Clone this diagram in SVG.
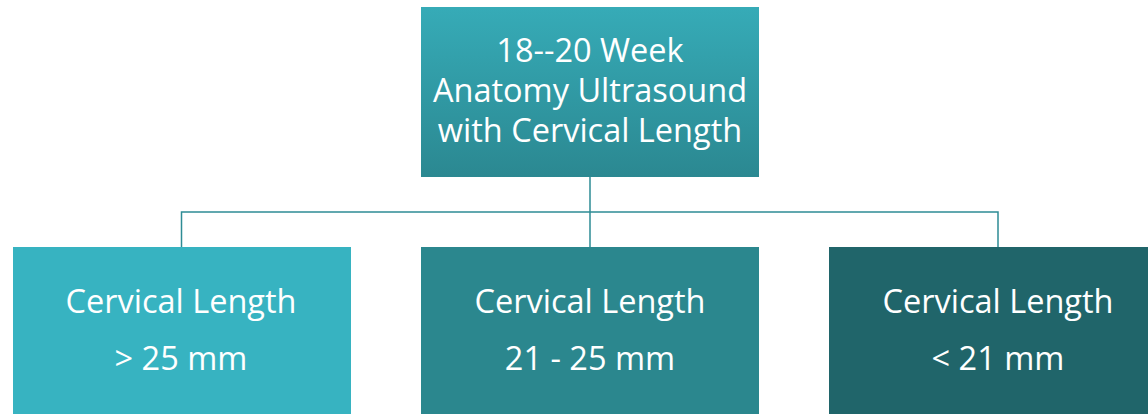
<svg xmlns="http://www.w3.org/2000/svg" width="1148" height="414" viewBox="0 0 1148 414">
<defs>
<linearGradient id="topg" x1="0" y1="0" x2="0" y2="1">
<stop offset="0" stop-color="#36abb7"/>
<stop offset="1" stop-color="#2b8891"/>
</linearGradient>
</defs>
<style>
.t{font-family:"Open Sans","Liberation Sans",sans-serif;font-size:32.5px;fill:#ffffff;text-anchor:middle}
.c{fill:none;stroke:#2e8c95;stroke-width:1.5}
</style>
<rect width="1148" height="414" fill="#ffffff"/>
<g id="connectors">
<path class="c" d="M590 177V247M181.5 247V212H998V247"/>
</g>
<g id="top">
<rect x="421" y="7" width="338" height="170" fill="url(#topg)"/>
<text class="t" x="590" y="62">18--20 Week</text>
<text class="t" x="590" y="102">Anatomy Ultrasound</text>
<text class="t" x="590" y="142">with Cervical Length</text>
</g>
<g id="left">
<rect x="13" y="247" width="338" height="170" fill="#37b3c1"/>
<text class="t" x="181" y="313">Cervical Length</text>
<text class="t" x="181" y="370">&gt; 25 mm</text>
</g>
<g id="middle">
<rect x="421" y="247" width="338" height="170" fill="#2b878e"/>
<text class="t" x="590" y="313">Cervical Length</text>
<text class="t" x="590" y="370">21 - 25 mm</text>
</g>
<g id="right">
<rect x="829" y="247" width="338" height="170" fill="#20656a"/>
<text class="t" x="998" y="313">Cervical Length</text>
<text class="t" x="998" y="370">&lt; 21 mm</text>
</g>
</svg>
